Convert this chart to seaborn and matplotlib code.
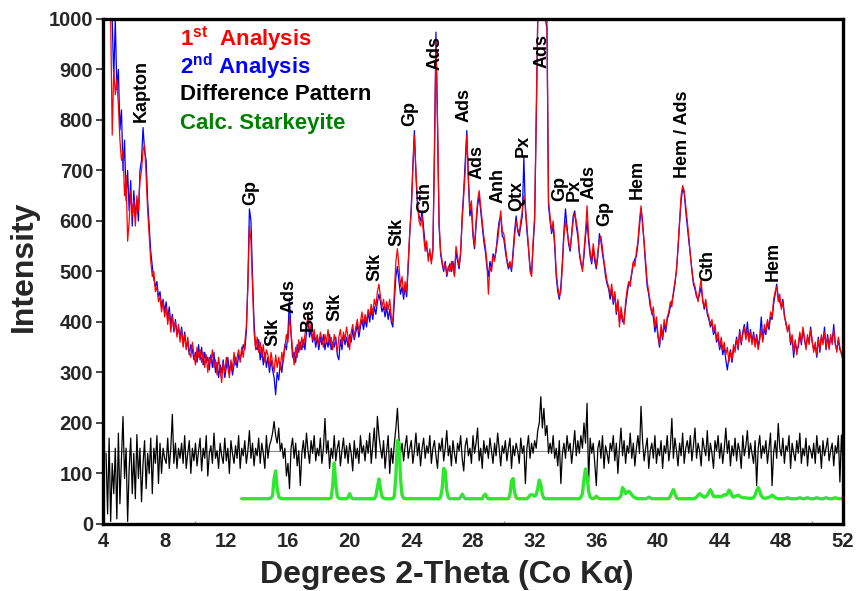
import numpy as np
import pandas as pd
import matplotlib
matplotlib.use("Agg")
import matplotlib.pyplot as plt
import seaborn as sns

# scan step in degrees 2-theta
step = 0.1

# 1st analysis (red), first point at 4.4 deg
first_start = 4.4
first_analysis = [
    1000, 1000, 770, 900, 850, 880,
    830, 760, 720, 740, 650, 690, 560, 600, 660, 610,
    640, 590, 650, 620, 680, 700, 740, 750, 690, 620,
    570, 520, 490, 500, 460, 470, 440, 450, 420, 440,
    410, 430, 395, 420, 380, 410, 385, 400, 370, 395,
    360, 385, 350, 375, 345, 370, 340, 330, 360, 335,
    315, 350, 330, 345, 320, 340, 310, 335, 300, 330,
    320, 345, 310, 325, 295, 330, 305, 280, 320, 300,
    330, 310, 290, 325, 305, 340, 315, 330, 345, 320,
    350, 330, 360, 390, 470, 590, 560, 470, 380, 345,
    370, 340, 360, 330, 355, 320, 345, 335, 310, 340,
    320, 300, 335, 310, 330, 305, 340, 320, 350, 375,
    360, 410, 380, 345, 315, 350, 330, 365, 345, 370,
    350, 375, 390, 415, 380, 395, 365, 385, 360, 375,
    355, 380, 365, 350, 375, 360, 385, 355, 370, 345,
    375, 360, 340, 370, 385, 355, 380, 365, 390, 370,
    345, 380, 395, 370, 390, 405, 380, 400, 420, 395,
    415, 400, 425, 410, 435, 415, 445, 430, 460, 475,
    450, 430, 445, 420, 440, 425, 445, 410, 400, 460,
    520, 545, 510, 470, 490, 455, 480, 460, 520, 580,
    620, 700, 770, 700, 640, 600, 590, 610, 570, 540,
    560, 520, 545, 515, 540, 720, 955, 800, 600, 540,
    520, 505, 515, 495, 510, 500, 520, 505, 490, 550,
    530, 510, 540, 600, 650, 700, 770, 690, 620, 640,
    580, 550, 600, 640, 660, 630, 600, 570, 550, 520,
    455, 510, 500, 530, 520, 545, 560, 590, 620, 580,
    575, 550, 525, 510, 520, 505, 530, 570, 600, 585,
    575, 600, 620, 650, 630, 590, 550, 500, 490, 560,
    610, 800, 1000, 1000, 1000, 1000, 1000, 1000, 1000, 640,
    610, 580, 600, 560, 500, 470, 450, 460, 510, 570,
    600, 580, 560, 545, 570, 600, 615, 600, 580, 540,
    520, 500, 540, 580, 630, 570, 540, 520, 555, 530,
    510, 540, 560, 570, 545, 520, 500, 480, 470, 455,
    475, 440, 460, 420, 445, 390, 430, 410, 395, 440,
    465, 480, 470, 500, 520, 510, 540, 560, 600, 630,
    590, 560, 520, 480, 460, 440, 415, 430, 390, 410,
    375, 355, 395, 370, 405, 385, 410, 420, 440, 430,
    460, 480, 500, 550, 600, 650, 670, 660, 630, 600,
    570, 530, 505, 480, 470, 455, 440, 465, 485, 440,
    430, 445, 420, 410, 395, 405, 380, 395, 365, 380,
    350, 370, 345, 360, 335, 350, 320, 340, 325, 355,
    340, 365, 350, 380, 360, 375, 390, 365, 385, 360,
    380, 355, 375, 350, 370, 345, 365, 385, 360, 395,
    380, 405, 390, 420, 410, 445, 460, 470, 440, 455,
    425, 440, 410, 400, 380, 395, 360, 375, 340, 365,
    335, 355, 380, 360, 390, 370, 345, 375, 355, 385,
    365, 340, 360, 335, 365, 345, 375, 355, 380, 350,
    370, 345, 375, 355, 385, 360, 340, 370, 350, 335,
    325,
]

# 2nd analysis (blue), first point at 4.4 deg
second_start = 4.4
second_analysis = [
    1000, 1000, 1000, 880, 1000, 860,
    900, 780, 820, 700, 760, 640, 700, 620, 680, 590,
    660, 610, 640, 600, 700, 720, 785, 740, 720, 640,
    590, 540, 510, 485, 470, 480, 450, 460, 430, 445,
    420, 440, 405, 430, 395, 415, 380, 405, 375, 390,
    370, 390, 355, 380, 350, 360, 335, 355, 345, 325,
    340, 320, 355, 325, 350, 315, 340, 320, 330, 305,
    335, 310, 340, 300, 320, 290, 315, 300, 325, 290,
    310, 330, 300, 320, 295, 315, 330, 310, 335, 325,
    340, 355, 345, 380, 480, 624, 600, 490, 400, 350,
    345, 365, 325, 350, 315, 340, 310, 330, 300, 325,
    305, 290, 256, 300, 285, 320, 300, 330, 355, 345,
    380, 447, 375, 330, 340, 320, 355, 340, 360, 345,
    365, 345, 380, 405, 370, 385, 360, 375, 350, 370,
    345, 370, 355, 375, 345, 365, 350, 375, 345, 360,
    350, 370, 335, 325, 365, 345, 375, 355, 370, 350,
    375, 360, 385, 365, 380, 395, 370, 390, 405, 385,
    405, 390, 420, 400, 425, 405, 430, 415, 440, 455,
    440, 420, 430, 410, 430, 405, 425, 400, 390, 440,
    490, 510, 480, 455, 470, 445, 470, 450, 510, 575,
    630, 710, 779, 690, 630, 610, 600, 620, 585, 555,
    545, 530, 535, 520, 545, 740, 974, 790, 590, 535,
    515, 500, 520, 490, 505, 515, 500, 520, 495, 540,
    520, 505, 535, 610, 660, 720, 779, 680, 610, 625,
    570, 545, 590, 630, 650, 620, 590, 560, 540, 510,
    490, 520, 505, 535, 525, 540, 575, 600, 610, 570,
    565, 540, 520, 505, 515, 500, 540, 580, 610, 580,
    570, 590, 610, 726, 620, 580, 545, 510, 495, 550,
    600, 790, 1000, 1000, 1000, 1000, 1000, 1000, 980, 630,
    600, 575, 590, 550, 490, 460, 445, 470, 520, 580,
    624, 590, 555, 540, 575, 610, 620, 590, 570, 535,
    515, 505, 530, 570, 600, 560, 530, 515, 545, 520,
    505, 530, 575, 560, 535, 515, 490, 475, 465, 445,
    465, 435, 455, 415, 440, 400, 420, 400, 405, 430,
    455, 475, 480, 495, 515, 525, 530, 555, 590, 625,
    600, 555, 510, 470, 455, 430, 420, 410, 380, 400,
    370, 350, 385, 365, 395, 380, 405, 415, 430, 440,
    455, 475, 505, 545, 595, 640, 665, 655, 620, 590,
    560, 535, 500, 475, 465, 450, 445, 455, 470, 445,
    425, 440, 415, 405, 390, 400, 375, 385, 360, 370,
    345, 360, 335, 350, 325, 305, 330, 345, 320, 345,
    350, 370, 345, 385, 355, 380, 395, 370, 400, 365,
    385, 360, 380, 355, 375, 350, 370, 410, 365, 385,
    375, 400, 385, 410, 405, 435, 455, 475, 450, 440,
    430, 445, 415, 395, 385, 390, 355, 370, 330, 360,
    345, 350, 375, 355, 385, 365, 350, 370, 360, 390,
    360, 345, 355, 330, 370, 340, 370, 360, 390, 345,
    375, 350, 370, 360, 395, 355, 345, 365, 345, 340,
    330,
]

# difference pattern (black, offset), first point at 4.2 deg
diff_start = 4.2
difference = [
    140, 20, 170, 5, 120, 60, 150, 10,
    180, 40, 130, 213, 90, 150, 5, 110, 170, 60,
    140, 50, 177, 90, 150, 44, 120, 165, 70, 140,
    100, 170, 60, 150, 120, 175, 80, 160, 100, 150,
    130, 120, 170, 110, 150, 217, 120, 160, 110, 150,
    130, 160, 120, 175, 110, 140, 165, 100, 150, 125,
    160, 115, 145, 170, 105, 150, 130, 175, 95, 140,
    155, 120, 180, 130, 145, 110, 160, 135, 120, 170,
    125, 150, 100, 165, 140, 120, 155, 130, 175, 110,
    150, 135, 165, 120, 145, 185, 130, 160, 115, 150,
    135, 170, 120, 160, 140, 110, 175, 130, 155, 165,
    180, 203, 175, 160, 190, 145, 160, 130, 150, 95,
    120, 70, 150, 170, 130, 160, 115, 145, 76, 140,
    165, 130, 180, 145, 120, 165, 140, 175, 125, 150,
    135, 170, 120, 150, 209, 140, 165, 110, 150, 130,
    175, 125, 150, 165, 115, 145, 170, 130, 155, 120,
    160, 140, 105, 165, 130, 150, 120, 175, 140, 155,
    125, 165, 140, 180, 120, 155, 190, 130, 213, 175,
    150, 130, 165, 110, 145, 175, 100, 150, 120, 160,
    190, 229, 170, 140, 160, 125, 155, 175, 130, 150,
    165, 120, 145, 180, 135, 160, 115, 150, 170, 130,
    155, 140, 175, 120, 150, 165, 135, 110, 160, 145,
    170, 125, 150, 185, 135, 155, 115, 165, 140, 120,
    160, 145, 175, 130, 105, 155, 170, 135, 150, 120,
    175, 140, 160, 190, 125, 150, 110, 165, 140, 155,
    130, 170, 145, 120, 160, 135, 180, 150, 115, 155,
    140, 165, 125, 150, 170, 110, 155, 135, 160, 145,
    120, 170, 140, 155, 80, 150, 175, 130, 160, 140,
    165, 150, 185, 200, 252, 190, 229, 175, 195, 140,
    160, 140, 175, 130, 150, 115, 165, 80, 140, 160,
    130, 175, 145, 160, 120, 150, 185, 135, 165, 140,
    175, 150, 200, 160, 239, 83, 170, 140, 160, 120,
    76, 150, 165, 130, 175, 110, 155, 140, 120, 160,
    145, 175, 125, 160, 100, 150, 190, 135, 165, 120,
    155, 140, 180, 130, 160, 115, 150, 175, 140, 233,
    165, 125, 150, 170, 110, 145, 160, 130, 175, 120,
    150, 135, 165, 110, 155, 140, 175, 125, 150, 209,
    130, 170, 145, 115, 160, 135, 180, 120, 150, 165,
    140, 175, 125, 155, 190, 130, 160, 145, 115, 170,
    150, 135, 185, 125, 160, 140, 110, 165, 145, 175,
    130, 160, 120, 150, 190, 140, 165, 115, 155, 135,
    170, 125, 160, 145, 110, 175, 135, 155, 185, 130,
    160, 140, 120, 165, 76, 150, 175, 130, 155, 140,
    165, 120, 150, 180, 76, 140, 165, 130, 199, 150,
    135, 170, 120, 155, 145, 175, 110, 160, 140, 125,
    165, 140, 180, 120, 150, 135, 170, 115, 155, 145,
    130, 160, 120, 175, 140, 155, 110, 165, 135, 150,
    170, 125, 145, 160, 115, 155, 140, 175, 83, 176,
    120,
]
diff_offset = 145

# calculated starkeyite pattern (green), first point at 13.0 deg
calc_start = 13.0
calc_starkeyite = [
    50, 50, 50, 50, 50, 50, 50, 50, 50, 50,
    50, 50, 50, 50, 50, 50, 50, 50, 50, 52,
    56, 90, 105, 70, 54, 51, 50, 50, 50, 50,
    50, 50, 50, 50, 50, 50, 50, 50, 50, 50,
    50, 50, 50, 50, 50, 50, 50, 50, 50, 50,
    50, 50, 50, 50, 50, 50, 50, 50, 52, 75,
    121, 80, 55, 51, 50, 50, 50, 50, 50, 53,
    60, 53, 50, 50, 50, 50, 50, 50, 50, 50,
    50, 50, 50, 50, 50, 50, 50, 55, 72, 89,
    70, 54, 51, 50, 50, 50, 50, 50, 50, 55,
    95, 165, 160, 90, 57, 51, 50, 50, 50, 50,
    50, 50, 50, 50, 50, 50, 50, 50, 50, 50,
    50, 50, 50, 50, 50, 50, 50, 50, 50, 53,
    70, 110, 105, 66, 53, 50, 50, 50, 50, 50,
    50, 50, 53, 59, 54, 50, 50, 50, 50, 50,
    50, 50, 50, 50, 50, 50, 50, 56, 59, 53,
    50, 50, 50, 50, 50, 50, 50, 50, 50, 50,
    50, 50, 50, 50, 58, 85, 90, 62, 52, 50,
    50, 50, 50, 50, 50, 50, 53, 57, 58, 57,
    55, 58, 70, 87, 78, 58, 51, 50, 50, 50,
    50, 50, 50, 50, 50, 50, 50, 50, 50, 50,
    50, 50, 50, 50, 50, 50, 50, 50, 50, 50,
    53, 60, 88, 109, 95, 65, 53, 51, 50, 52,
    55, 52, 50, 50, 50, 50, 50, 50, 50, 50,
    50, 50, 50, 50, 50, 52, 56, 72, 68, 60,
    63, 65, 62, 58, 54, 52, 51, 50, 50, 50,
    50, 50, 50, 51, 53, 52, 50, 50, 50, 50,
    50, 50, 50, 50, 50, 50, 50, 50, 55, 62,
    68, 60, 52, 50, 50, 50, 50, 50, 50, 50,
    50, 50, 50, 50, 51, 53, 57, 60, 58, 55,
    53, 54, 57, 63, 68, 62, 55, 54, 54, 55,
    54, 54, 56, 58, 57, 60, 67, 64, 56, 53,
    55, 56, 57, 55, 53, 52, 52, 52, 51, 51,
    51, 51, 52, 57, 66, 72, 65, 56, 52, 51,
    51, 52, 53, 54, 57, 55, 52, 51, 50, 50,
    50, 50, 50, 51, 52, 51, 50, 50, 50, 50,
    50, 51, 52, 51, 50, 50, 51, 52, 51, 50,
    50, 50, 51, 52, 51, 50, 50, 50, 51, 52,
    51, 50, 50, 50, 51, 52, 51, 50, 50, 50,
    51, 52, 51, 50, 50, 51, 52, 51, 50, 50,
    51,
]

# phase labels above the peaks
peak_labels = ["Kapton", "Gp", "Stk", "Ads", "Bas", "Stk", "Stk", "Stk", "Gp",
               "Gth", "Ads", "Ads", "Ads", "Anh", "Qtx", "Px", "Ads", "Gp",
               "Px", "Ads", "Gp", "Hem", "Hem / Ads", "Gth", "Hem"]
label_x = [6.5, 13.57, 15.0, 16.05, 17.29, 19.04, 21.65, 23.08, 23.93,
           24.84, 25.56, 27.45, 28.29, 29.6, 30.83, 31.29, 32.46, 33.65,
           34.55, 35.5, 36.56, 38.65, 41.58, 43.2, 47.5]
label_y = [795, 632, 352, 417, 382, 402, 481, 551, 789,
           616, 899, 795, 684, 636, 620, 726, 903, 640,
           640, 644, 590, 644, 686, 481, 481]


def scan_frame(values, start):
    two_theta = start + step * np.arange(len(values))
    return pd.DataFrame({"two_theta": np.round(two_theta, 2), "intensity": values})


df_first = scan_frame(first_analysis, first_start)
df_second = scan_frame(second_analysis, second_start)
df_diff = scan_frame(difference, diff_start)
df_calc = scan_frame(calc_starkeyite, calc_start)

sns.set_theme(style="ticks")
plt.rcParams["font.family"] = ["Liberation Sans", "DejaVu Sans"]
plt.rcParams["mathtext.fontset"] = "custom"
plt.rcParams["mathtext.rm"] = "Liberation Sans:bold"
plt.rcParams["mathtext.bf"] = "Liberation Sans:bold"

fig = plt.figure(figsize=(8.58, 5.91), dpi=100)
ax = fig.add_axes([0.120, 0.1134, 0.8625, 0.8545])

ax.axhline(diff_offset, color="#8a8a8a", lw=0.8, zorder=1)
sns.lineplot(data=df_diff, x="two_theta", y="intensity", ax=ax,
             color="black", lw=0.9, estimator=None, sort=False)
sns.lineplot(data=df_calc, x="two_theta", y="intensity", ax=ax,
             color="#2ee82e", lw=2.4, estimator=None, sort=False)
sns.lineplot(data=df_second, x="two_theta", y="intensity", ax=ax,
             color="#0000ff", lw=0.9, estimator=None, sort=False)
sns.lineplot(data=df_first, x="two_theta", y="intensity", ax=ax,
             color="#ff0000", lw=0.9, estimator=None, sort=False)

ax.set_xlim(4, 52)
ax.set_ylim(0, 1000)
ax.set_xticks(np.arange(4, 53, 4))
ax.set_xticks(np.arange(10, 51, 10), minor=True)
ax.set_yticks(np.arange(0, 1001, 100))

for sp in ax.spines.values():
    sp.set_linewidth(2.4)
    sp.set_color("black")

ax.tick_params(axis="x", which="major", length=0, pad=6)
ax.tick_params(axis="x", which="minor", direction="in", length=2, width=1, color="#999999")
ax.tick_params(axis="y", which="major", direction="out", length=5, width=1.2, pad=2)
for lab in ax.get_xticklabels() + ax.get_yticklabels():
    lab.set_fontweight("bold")
    lab.set_fontsize(14.5)

ax.set_xlabel("Degrees 2-Theta (Co K\u03b1)", fontsize=23, fontweight="bold")
ax.set_ylabel("Intensity", fontsize=23, fontweight="bold")
ax.xaxis.set_label_coords(0.465, -0.072)
ax.yaxis.set_label_coords(-0.086, 0.51)

for txt, x, y in zip(peak_labels, label_x, label_y):
    ax.text(x, y, txt, rotation=90, ha="center", va="bottom",
            fontsize=13, fontweight="bold", color="black")

legend_items = [
    (r"1$^{\mathrm{st}}$  Analysis", "#ff0000"),
    (r"2$^{\mathrm{nd}}$ Analysis", "#0000ff"),
    ("Difference Pattern", "black"),
    ("Calc. Starkeyite", "#008000"),
]
for i, (txt, col) in enumerate(legend_items):
    ax.text(0.104, 0.962 - 0.056 * i, txt, transform=ax.transAxes, ha="left",
            va="center", fontsize=16, fontweight="bold", color=col)

fig.savefig("out.png", dpi=100)
